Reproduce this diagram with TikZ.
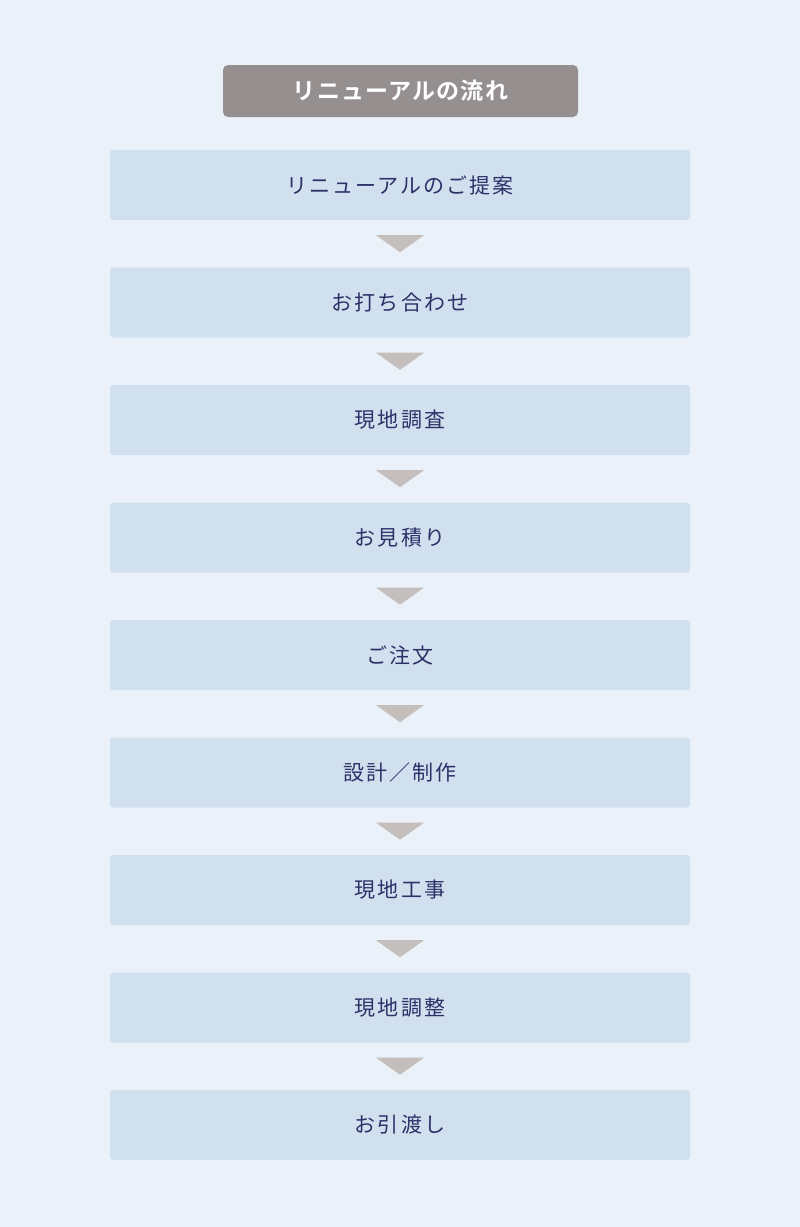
\documentclass[tikz,border=0pt]{standalone}
\usepackage{fontspec}
\setmainfont{Noto Sans CJK JP}
\newfontfamily\stepfont[LetterSpace=10]{Noto Sans CJK JP}
\newfontfamily\headfont[LetterSpace=5]{Noto Sans CJK JP Bold}
\usetikzlibrary{calc}
\definecolor{bgblue}{HTML}{EAF1F8}
\definecolor{boxblue}{HTML}{D0E0EE}
\definecolor{headgray}{HTML}{958F8F}
\definecolor{arrowgray}{HTML}{C4BFBD}
\definecolor{navy}{HTML}{2E3068}

\begin{document}
\begin{tikzpicture}[x=1pt,y=-1pt,
  stepbox/.style={fill=boxblue, rounded corners=3pt, minimum width=580pt, minimum height=70pt, inner sep=0pt, text=navy, font=\stepfont\fontsize{21}{24}\selectfont},
  headbox/.style={fill=headgray, rounded corners=5pt, minimum width=355pt, minimum height=52pt, inner sep=0pt, text=white, font=\headfont\fontsize{23}{26}\selectfont}]
\fill[bgblue] (0,0) rectangle (800,1227);
\useasboundingbox (0,0) rectangle (800,1227);

\node[headbox] (head) at (400.5,91) {リニューアルの流れ};

\node[stepbox] (s1) at (400,185) {リニューアルのご提案};
\node[stepbox] (s2) at (400,302.5) {お打ち合わせ};
\node[stepbox] (s3) at (400,420) {現地調査};
\node[stepbox] (s4) at (400,537.5) {お見積り};
\node[stepbox] (s5) at (400,655) {ご注文};
\node[stepbox] (s6) at (400,772.5) {設計／制作};
\node[stepbox] (s7) at (400,890) {現地工事};
\node[stepbox] (s8) at (400,1007.5) {現地調整};
\node[stepbox] (s9) at (400,1125) {お引渡し};

% arrows between the steps
\fill[arrowgray] ($(s1.south)+(-24,15)$) -- ($(s1.south)+(24,15)$) -- ($(s1.south)+(0,32)$) -- cycle;
\fill[arrowgray] ($(s2.south)+(-24,15)$) -- ($(s2.south)+(24,15)$) -- ($(s2.south)+(0,32)$) -- cycle;
\fill[arrowgray] ($(s3.south)+(-24,15)$) -- ($(s3.south)+(24,15)$) -- ($(s3.south)+(0,32)$) -- cycle;
\fill[arrowgray] ($(s4.south)+(-24,15)$) -- ($(s4.south)+(24,15)$) -- ($(s4.south)+(0,32)$) -- cycle;
\fill[arrowgray] ($(s5.south)+(-24,15)$) -- ($(s5.south)+(24,15)$) -- ($(s5.south)+(0,32)$) -- cycle;
\fill[arrowgray] ($(s6.south)+(-24,15)$) -- ($(s6.south)+(24,15)$) -- ($(s6.south)+(0,32)$) -- cycle;
\fill[arrowgray] ($(s7.south)+(-24,15)$) -- ($(s7.south)+(24,15)$) -- ($(s7.south)+(0,32)$) -- cycle;
\fill[arrowgray] ($(s8.south)+(-24,15)$) -- ($(s8.south)+(24,15)$) -- ($(s8.south)+(0,32)$) -- cycle;
\end{tikzpicture}
\end{document}
